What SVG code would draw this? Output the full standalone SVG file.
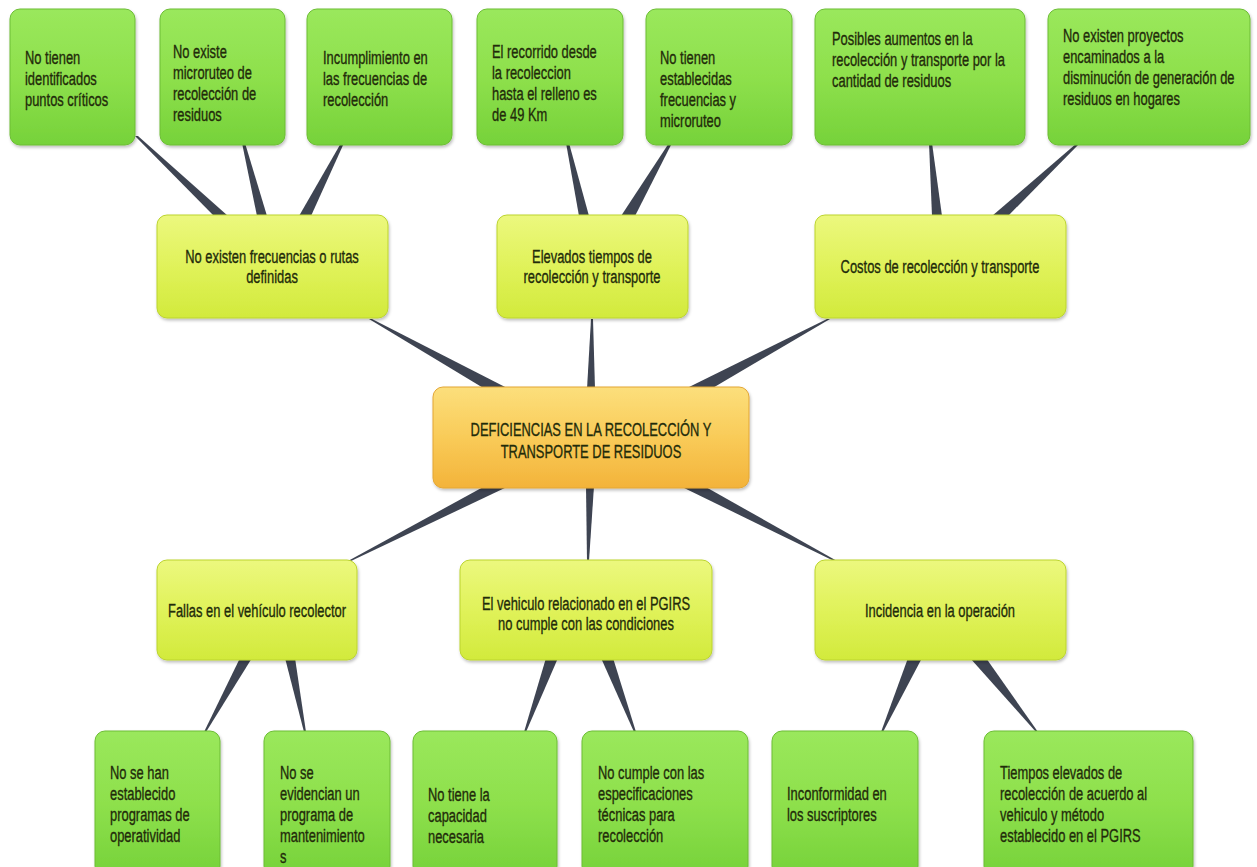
<svg xmlns="http://www.w3.org/2000/svg" width="1257" height="867" viewBox="0 0 1257 867">
<defs>
<linearGradient id="gGreen" x1="0" y1="0" x2="0" y2="1">
<stop offset="0" stop-color="#9ae85c"/>
<stop offset="0.5" stop-color="#8ee04c"/>
<stop offset="1" stop-color="#76d23a"/>
</linearGradient>
<linearGradient id="gYellow" x1="0" y1="0" x2="0" y2="1">
<stop offset="0" stop-color="#ecf87e"/>
<stop offset="0.5" stop-color="#e0f25a"/>
<stop offset="1" stop-color="#d2ea3c"/>
</linearGradient>
<linearGradient id="gOrange" x1="0" y1="0" x2="0" y2="1">
<stop offset="0" stop-color="#fcdf7c"/>
<stop offset="0.5" stop-color="#f9cb58"/>
<stop offset="1" stop-color="#f3b33a"/>
</linearGradient>
<filter id="sh" x="-10%" y="-10%" width="120%" height="130%">
<feDropShadow dx="1" dy="2" stdDeviation="1.6" flood-color="#000" flood-opacity="0.25"/>
</filter>
</defs>
<style>
.leaf{fill:url(#gGreen);stroke:#6cbd34;stroke-width:1;filter:url(#sh)}
.mid{fill:url(#gYellow);stroke:#bcd42e;stroke-width:1;filter:url(#sh)}
.core{fill:url(#gOrange);stroke:#e3a634;stroke-width:1;filter:url(#sh)}
.t{font-family:"Liberation Sans",Arial,sans-serif;font-size:19px;fill:#222b0a;stroke:#222b0a;stroke-width:0.35}
.c{text-anchor:middle}
.w{fill:#3e4452}
</style>
<rect width="1257" height="867" fill="#ffffff"/>
<g id="connectors">
<polygon class="w" points="135,136 138,136 228,216 214,216"/>
<polygon class="w" points="242,143 245,143 267,216 257,216"/>
<polygon class="w" points="341,143 344,143 311,216 299,216"/>
<polygon class="w" points="566,143 569,143 589,216 579,216"/>
<polygon class="w" points="669,143 672,143 635,216 621,216"/>
<polygon class="w" points="929,143 932,143 942,216 932,216"/>
<polygon class="w" points="1077,143 1080,143 1008,216 992,216"/>
<polygon class="w" points="369,319 372,319 509,389 485,389"/>
<polygon class="w" points="591,319 593,319 595,389 587,389"/>
<polygon class="w" points="827,319 830,319 711,389 685,389"/>
<polygon class="w" points="485,486 509,486 351,561 348,561"/>
<polygon class="w" points="586,486 594,486 589,561 587,561"/>
<polygon class="w" points="680,486 704,486 837,561 834,561"/>
<polygon class="w" points="240,658 252,658 206,732 204,732"/>
<polygon class="w" points="285,658 295,658 306,732 304,732"/>
<polygon class="w" points="546,658 558,658 526,732 524,732"/>
<polygon class="w" points="601,658 613,658 636,732 634,732"/>
<polygon class="w" points="908,658 922,658 883,732 881,732"/>
<polygon class="w" points="970,658 986,658 1038,732 1036,732"/>
</g>
<g id="n_leaf1"><rect class="leaf" x="10" y="9" width="125" height="136" rx="10"/>
<text class="t" transform="translate(25,64) scale(0.68,1)"><tspan x="0" dy="0">No tienen</tspan><tspan x="0" dy="21">identificados</tspan><tspan x="0" dy="21">puntos críticos</tspan></text></g>
<g id="n_leaf2"><rect class="leaf" x="160" y="9" width="125" height="136" rx="10"/>
<text class="t" transform="translate(173,58) scale(0.68,1)"><tspan x="0" dy="0">No existe</tspan><tspan x="0" dy="21">microruteo de</tspan><tspan x="0" dy="21">recolección de</tspan><tspan x="0" dy="21">residuos</tspan></text></g>
<g id="n_leaf3"><rect class="leaf" x="307" y="9" width="145" height="136" rx="10"/>
<text class="t" transform="translate(323,64) scale(0.68,1)"><tspan x="0" dy="0">Incumplimiento en</tspan><tspan x="0" dy="21">las frecuencias de</tspan><tspan x="0" dy="21">recolección</tspan></text></g>
<g id="n_leaf4"><rect class="leaf" x="477" y="9" width="146" height="136" rx="10"/>
<text class="t" transform="translate(492,58) scale(0.68,1)"><tspan x="0" dy="0">El recorrido desde</tspan><tspan x="0" dy="21">la recoleccion</tspan><tspan x="0" dy="21">hasta el relleno es</tspan><tspan x="0" dy="21">de 49 Km</tspan></text></g>
<g id="n_leaf5"><rect class="leaf" x="646" y="9" width="146" height="136" rx="10"/>
<text class="t" transform="translate(660,64) scale(0.68,1)"><tspan x="0" dy="0">No tienen</tspan><tspan x="0" dy="21">establecidas</tspan><tspan x="0" dy="21">frecuencias y</tspan><tspan x="0" dy="21">microruteo</tspan></text></g>
<g id="n_leaf6"><rect class="leaf" x="815" y="9" width="210" height="136" rx="10"/>
<text class="t" transform="translate(832,45) scale(0.68,1)"><tspan x="0" dy="0">Posibles aumentos en la</tspan><tspan x="0" dy="21">recolección y transporte por la</tspan><tspan x="0" dy="21">cantidad de residuos</tspan></text></g>
<g id="n_leaf7"><rect class="leaf" x="1048" y="9" width="202" height="136" rx="10"/>
<text class="t" transform="translate(1063,42) scale(0.68,1)"><tspan x="0" dy="0">No existen proyectos</tspan><tspan x="0" dy="21">encaminados a la</tspan><tspan x="0" dy="21">disminución de generación de</tspan><tspan x="0" dy="21">residuos en hogares</tspan></text></g>
<g id="n_mid1"><rect class="mid" x="157" y="215" width="231" height="103" rx="10"/>
<text class="t c" transform="translate(272,263) scale(0.68,1)"><tspan x="0" dy="0">No existen frecuencias o rutas</tspan><tspan x="0" dy="20">definidas</tspan></text></g>
<g id="n_mid2"><rect class="mid" x="497" y="215" width="191" height="103" rx="10"/>
<text class="t c" transform="translate(592,263) scale(0.68,1)"><tspan x="0" dy="0">Elevados tiempos de</tspan><tspan x="0" dy="20">recolección y transporte</tspan></text></g>
<g id="n_mid3"><rect class="mid" x="815" y="215" width="251" height="103" rx="10"/>
<text class="t c" transform="translate(940,273) scale(0.68,1)"><tspan x="0" dy="0">Costos de recolección y transporte</tspan></text></g>
<g id="n_core"><rect class="core" x="433" y="387" width="316" height="101" rx="10"/>
<text class="t c" transform="translate(591,436) scale(0.68,1)"><tspan x="0" dy="0">DEFICIENCIAS EN LA RECOLECCIÓN Y</tspan><tspan x="0" dy="22">TRANSPORTE DE RESIDUOS</tspan></text></g>
<g id="n_mid4"><rect class="mid" x="157" y="560" width="200" height="100" rx="10"/>
<text class="t c" transform="translate(257,617) scale(0.68,1)"><tspan x="0" dy="0">Fallas en el vehículo recolector</tspan></text></g>
<g id="n_mid5"><rect class="mid" x="460" y="560" width="252" height="100" rx="10"/>
<text class="t c" transform="translate(586,610) scale(0.68,1)"><tspan x="0" dy="0">El vehiculo relacionado en el PGIRS</tspan><tspan x="0" dy="20">no cumple con las condiciones</tspan></text></g>
<g id="n_mid6"><rect class="mid" x="815" y="560" width="251" height="100" rx="10"/>
<text class="t c" transform="translate(940,617) scale(0.68,1)"><tspan x="0" dy="0">Incidencia en la operación</tspan></text></g>
<g id="n_leaf8"><rect class="leaf" x="95" y="731" width="125" height="145" rx="10"/>
<text class="t" transform="translate(110,779) scale(0.68,1)"><tspan x="0" dy="0">No se han</tspan><tspan x="0" dy="21">establecido</tspan><tspan x="0" dy="21">programas de</tspan><tspan x="0" dy="21">operatividad</tspan></text></g>
<g id="n_leaf9"><rect class="leaf" x="264" y="731" width="126" height="145" rx="10"/>
<text class="t" transform="translate(280,779) scale(0.68,1)"><tspan x="0" dy="0">No se</tspan><tspan x="0" dy="21">evidencian un</tspan><tspan x="0" dy="21">programa de</tspan><tspan x="0" dy="21">mantenimiento</tspan><tspan x="0" dy="21">s</tspan></text></g>
<g id="n_leaf10"><rect class="leaf" x="413" y="731" width="144" height="145" rx="10"/>
<text class="t" transform="translate(428,801) scale(0.68,1)"><tspan x="0" dy="0">No tiene la</tspan><tspan x="0" dy="21">capacidad</tspan><tspan x="0" dy="21">necesaria</tspan></text></g>
<g id="n_leaf11"><rect class="leaf" x="582" y="731" width="166" height="145" rx="10"/>
<text class="t" transform="translate(598,779) scale(0.68,1)"><tspan x="0" dy="0">No cumple con las</tspan><tspan x="0" dy="21">especificaciones</tspan><tspan x="0" dy="21">técnicas para</tspan><tspan x="0" dy="21">recolección</tspan></text></g>
<g id="n_leaf12"><rect class="leaf" x="772" y="731" width="146" height="145" rx="10"/>
<text class="t" transform="translate(787,800) scale(0.68,1)"><tspan x="0" dy="0">Inconformidad en</tspan><tspan x="0" dy="21">los suscriptores</tspan></text></g>
<g id="n_leaf13"><rect class="leaf" x="984" y="731" width="209" height="145" rx="10"/>
<text class="t" transform="translate(1000,779) scale(0.68,1)"><tspan x="0" dy="0">Tiempos elevados de</tspan><tspan x="0" dy="21">recolección de acuerdo al</tspan><tspan x="0" dy="21">vehiculo y método</tspan><tspan x="0" dy="21">establecido en el PGIRS</tspan></text></g>
</svg>
